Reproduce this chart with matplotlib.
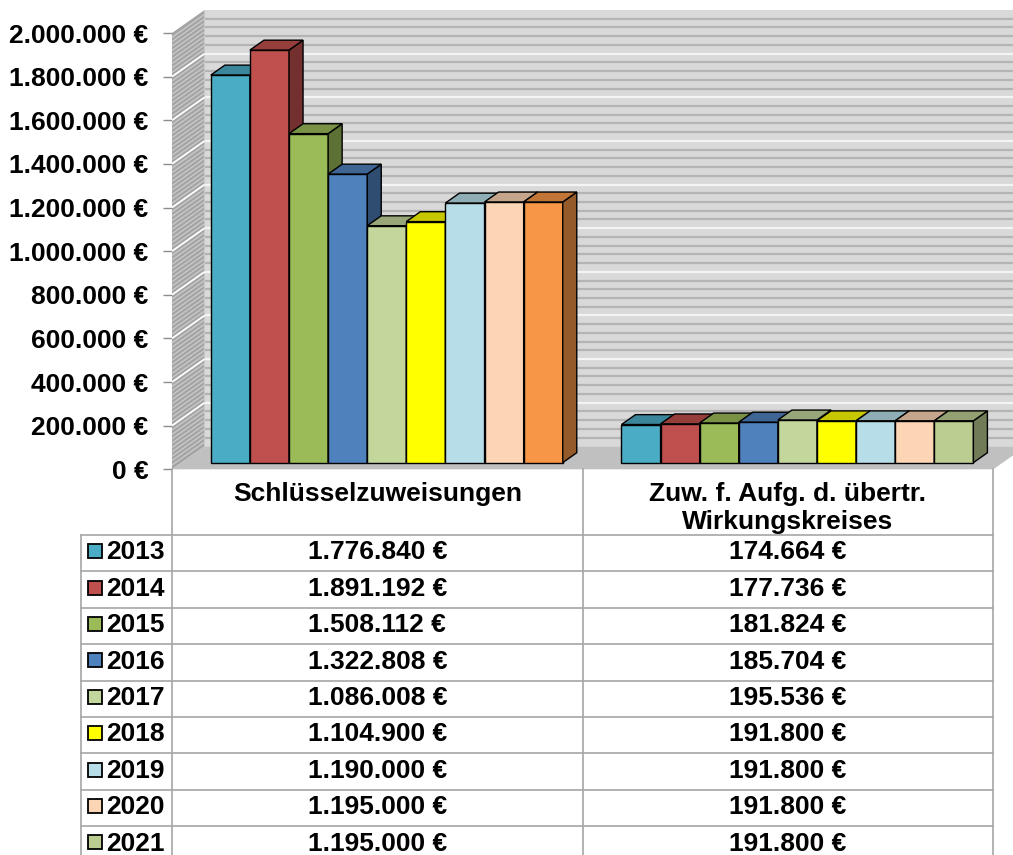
import matplotlib
matplotlib.use("Agg")
import matplotlib.pyplot as plt
from matplotlib.patches import Polygon, Rectangle

# ---------------- data ----------------
categories = ["Schlüsselzuweisungen", "Zuw. f. Aufg. d. übertr.\nWirkungskreises"]
years = ["2013", "2014", "2015", "2016", "2017", "2018", "2019", "2020", "2021"]
schluessel = [1776840, 1891192, 1508112, 1322808, 1086008, 1104900, 1190000, 1195000, 1195000]
zuweisung_uebertr = [174664, 177736, 181824, 185704, 195536, 191800, 191800, 191800, 191800]
series_colors = ["#4BACC6", "#C0504D", "#9BBB59", "#4F81BD", "#C3D69B",
                 "#FFFF00", "#B7DEE8", "#FCD5B5", "#BCCD91"]
# single data point with its own fill (Schlüsselzuweisungen 2021)
point_color_override = {(0, 8): "#F79646"}
yticks = list(range(0, 2000001, 200000))

values = [schluessel, zuweisung_uebertr]

FONT = "Liberation Sans"
FS = 19

def euro(v):
    return f"{v:,}".replace(",", ".") + " €"

def shade(c, f):
    r, g, b = matplotlib.colors.to_rgb(c)
    return (r * f, g * f, b * f)

W, H = 1013, 855
fig = plt.figure(figsize=(W / 100, H / 100), dpi=100)
fig.patch.set_facecolor("white")

# front plane of plot area (pixels)
L, R, Y0, Y1 = 172.0, 993.3, 469.3, 33.0
ax = fig.add_axes([L / W, 1 - Y0 / H, (R - L) / W, (Y0 - Y1) / H])
ax.set_xlim(0, len(categories))
ax.set_ylim(0, 2000000)
for s in ax.spines.values():
    s.set_visible(False)
ax.patch.set_visible(False)
ax.set_xticks([])
ax.set_yticks(yticks)
ax.set_yticklabels([euro(t) for t in yticks], fontfamily=FONT, fontweight="bold", fontsize=FS)
ax.tick_params(axis="y", length=6.5, width=1.0, color="#8c8c8c", pad=10.5)

DX, DY = 32.6, 23.0  # full depth offset in pixels

def P(x, y, d):
    px, py = ax.transData.transform((x, y))
    return ax.transData.inverted().transform((px + DX * d, py + DY * d))

def poly(pts, fc, ec="none", lw=0.0, z=1):
    ax.add_patch(Polygon(pts, closed=True, facecolor=fc, edgecolor=ec, linewidth=lw,
                         zorder=z, clip_on=False, joinstyle="miter"))

def line(p, q, color, lw, z):
    ax.plot([p[0], q[0]], [p[1], q[1]], color=color, lw=lw, zorder=z, clip_on=False,
            solid_capstyle="butt")

nc = len(categories)
ymax = yticks[-1]

# back wall
poly([P(0, 0, 1), P(nc + 0.2, 0, 1), P(nc + 0.2, ymax, 1), P(0, ymax, 1)], "#d9d9d9", z=1)
for y in range(40000, ymax, 40000):
    major = y % 200000 == 0
    line(P(0, y, 1), P(nc + 0.2, y, 1), "#f4f4f4" if major else "#b4b4b4", 1.6, 2)

# left side wall
poly([P(0, 0, 0), P(0, ymax, 0), P(0, ymax, 1), P(0, 0, 1)], "#a4a4a4", z=1)
for y in range(20000, ymax, 20000):
    major = y % 200000 == 0
    line(P(0, y, 0), P(0, y, 1), "#ffffff" if major else "#c9c9c9", 1.3 if major else 1.0, 2)

# floor
poly([P(0, 0, 0), P(nc, 0, 0), P(nc, 0, 1), P(0, 0, 1)], "#c0c0c0", z=2)

# bars
nser = len(years)
group = 0.857
bw = group / nser
D0, D1 = 0.29, 0.72
for i in range(nc):
    x_start = i + (1 - group) / 2
    for j in range(nser):
        v = values[i][j]
        c = point_color_override.get((i, j), series_colors[j])
        x0, x1 = x_start + j * bw, x_start + (j + 1) * bw
        z = 5 + j * 0.1
        poly([P(x0, 0, D0), P(x1, 0, D0), P(x1, v, D0), P(x0, v, D0)], c, "black", 1.0, z)
        poly([P(x1, 0, D0), P(x1, 0, D1), P(x1, v, D1), P(x1, v, D0)], shade(c, 0.6), "black", 1.0, z)
        poly([P(x0, v, D0), P(x1, v, D0), P(x1, v, D1), P(x0, v, D1)], shade(c, 0.78), "black", 1.0, z)

# ---------------- data table ----------------
tx = fig.add_axes([0, 0, 1, 1])
tx.set_xlim(0, W)
tx.set_ylim(H, 0)
tx.axis("off")
tx.patch.set_visible(False)

TL = 80.7
HB = 535.0
RH = 36.4
colx = [L + (R - L) * k / nc for k in range(nc + 1)]
grid_c = "#a6a6a6"
nrows = len(years)
bottom = HB + RH * nrows
for k in range(nrows + 1):
    yy = HB + RH * k
    tx.plot([TL, R], [yy, yy], color=grid_c, lw=1.2)
tx.plot([TL, TL], [HB, bottom], color=grid_c, lw=1.2)
for xx in colx:
    tx.plot([xx, xx], [Y0, bottom], color=grid_c, lw=1.2)

# header
for i, cat in enumerate(categories):
    cx = (colx[i] + colx[i + 1]) / 2
    for k, ln in enumerate(cat.split("\n")):
        tx.text(cx, 501 + 28 * k, ln, ha="center", va="baseline", fontfamily=FONT,
                fontweight="bold", fontsize=FS)

# rows
for r, yr in enumerate(years):
    top = HB + RH * r
    base = top + 24.3
    cy = top + RH / 2 - 2
    tx.add_patch(Rectangle((88.3, cy - 7), 14, 14, facecolor=series_colors[r],
                           edgecolor="black", lw=1.3))
    tx.text(106.5, base, yr, ha="left", va="baseline", fontfamily=FONT,
            fontweight="bold", fontsize=FS)
    for i in range(nc):
        cx = (colx[i] + colx[i + 1]) / 2
        tx.text(cx, base, euro(values[i][r]), ha="center", va="baseline",
                fontfamily=FONT, fontweight="bold", fontsize=FS)

fig.savefig("out.png", dpi=100, facecolor="white")
